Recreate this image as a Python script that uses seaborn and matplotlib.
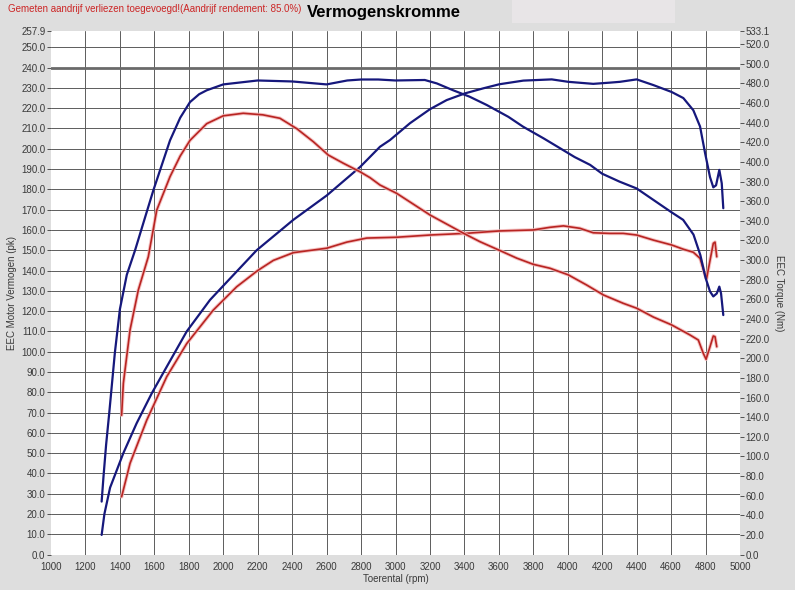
import matplotlib
matplotlib.use("Agg")
import matplotlib.pyplot as plt
import matplotlib.patheffects as pe
from matplotlib.patches import Rectangle
import seaborn as sns
import pandas as pd

# ---- data ----
blue_torque_rpm = [1294, 1305, 1320, 1338, 1371, 1400, 1440, 1488, 1540, 1594, 1691, 1750, 1807, 1860, 1904,
                   2000, 2200, 2400, 2600, 2720, 2800, 2900, 3000, 3170, 3240, 3335, 3430, 3530, 3655,
                   3740, 3860, 3955, 4040, 4130, 4200, 4300, 4400, 4500, 4600, 4670, 4730, 4770, 4800,
                   4826, 4845, 4865, 4880, 4890, 4903]
blue_torque_nm = [54, 80, 112, 144, 206, 250, 285, 310, 340, 371, 422, 445, 461, 469, 473,
                  479, 483, 482, 479, 483, 484, 484, 483, 483.5, 480, 473, 466.5, 458, 446,
                  436, 424, 414, 405, 397, 388, 380, 373, 361, 349, 341, 326, 305, 282,
                  268, 263, 266, 273, 266, 244]

blue_power_rpm = [1294, 1310, 1343, 1420, 1497, 1585, 1672, 1788, 1923, 2039, 2194, 2407, 2601, 2794,
                  2910, 2968, 3084, 3200, 3297, 3403, 3510, 3603, 3742, 3907, 4003, 4148, 4245,
                  4303, 4400, 4497, 4603, 4671, 4729, 4768, 4797, 4826, 4845, 4861, 4880, 4894, 4903]
blue_power_pk = [9.7, 20, 33, 50, 64.7, 79.5, 92.6, 110, 125.5, 136, 150, 165, 177, 191,
                 201, 204.3, 212.6, 219.5, 224, 227.3, 229.8, 231.8, 233.6, 234.2, 233, 232, 232.6,
                 233, 234.2, 231.4, 228, 225, 219, 211, 198, 186, 181, 182, 189.6, 183, 170.7]

red_torque_rpm = [1410, 1420, 1459, 1507, 1565, 1614, 1691, 1750, 1807, 1904, 2000, 2116, 2230, 2329, 2426,
                  2523, 2610, 2698, 2794, 2852, 2910, 3007, 3200, 3403, 3490, 3603, 3704, 3800, 3897,
                  4003, 4110, 4207, 4322, 4400, 4497, 4603, 4710, 4758, 4787, 4803, 4826, 4845,
                  4855, 4865]
red_torque_nm = [142, 174.5, 229, 269.6, 303.5, 351, 385, 406, 422, 439, 447, 449.6, 448, 444.5, 434,
                 420.6, 407, 398.6, 390, 384, 376.5, 368, 346, 326.6, 318.8, 310, 302, 295.7, 291.7,
                 285, 274.6, 264.5, 256, 251, 242, 234, 223.7, 218.6, 205, 199, 211.8, 222.7,
                 222, 211.8]

red_power_rpm = [1410, 1459, 1556, 1672, 1788, 1942, 2078, 2200, 2291, 2407, 2601, 2717, 2833, 3007, 3200,
                 3403, 3603, 3800, 3897, 3975, 4071, 4148, 4245, 4322, 4400, 4497, 4603, 4671,
                 4729, 4768, 4797, 4806, 4826, 4845, 4855, 4865]
red_power_pk = [28.5, 45, 66.3, 87.7, 104, 120.5, 132, 140, 145, 148.8, 151, 154, 156, 156.4, 157.5,
                158.3, 159.5, 160, 161.3, 162, 160.8, 158.6, 158.3, 158.3, 157.5, 155, 152.6, 150.5,
                149, 146, 137.8, 136, 145, 153.4, 154, 146.8]

x_ticks = list(range(1000, 5001, 200))
left_ticks = [float(v) for v in range(0, 251, 10)] + [257.9]
right_ticks = [float(v) for v in range(0, 521, 20)] + [533.1]

title = "Vermogenskromme"
note = "Gemeten aandrijf verliezen toegevoegd!(Aandrijf rendement: 85.0%)"
xlabel = "Toerental (rpm)"
ylabel_left = "EEC Motor Vermogen (pk)"
ylabel_right = "EEC Torque (Nm)"

# ---- style ----
sns.set_style("white")
plt.rcParams['font.family'] = ['Liberation Sans', 'DejaVu Sans']

BG = "#dedede"
BLUE = "#16187c"
RED = "#b82422"
TXT = "#3a3a3a"
GRID = "#5c5c5c"

fig = plt.figure(figsize=(7.95, 5.90), dpi=100, facecolor=BG)
L, R = 51 / 795, 740 / 795
B, T = 1 - 554.6 / 590, 1 - 31.3 / 590
ax = fig.add_axes([L, B, R - L, T - B])
ax.set_facecolor("white")
ax2 = ax.twinx()

df_bp = pd.DataFrame({"rpm": blue_power_rpm, "val": blue_power_pk})
df_rp = pd.DataFrame({"rpm": red_power_rpm, "val": red_power_pk})
df_bt = pd.DataFrame({"rpm": blue_torque_rpm, "val": blue_torque_nm})
df_rt = pd.DataFrame({"rpm": red_torque_rpm, "val": red_torque_nm})

halo = [pe.Stroke(linewidth=2.6, foreground="#f3b4b4", alpha=0.8), pe.Normal()]

sns.lineplot(data=df_bp, x="rpm", y="val", ax=ax, color=BLUE, linewidth=1.6, sort=False, zorder=5)
sns.lineplot(data=df_rp, x="rpm", y="val", ax=ax, color=RED, linewidth=1.2, sort=False, zorder=4,
             path_effects=halo)
sns.lineplot(data=df_bt, x="rpm", y="val", ax=ax2, color=BLUE, linewidth=1.6, sort=False, zorder=5)
sns.lineplot(data=df_rt, x="rpm", y="val", ax=ax2, color=RED, linewidth=1.2, sort=False, zorder=4,
             path_effects=halo)

ax.set_xlim(1000, 5000)
ax.set_ylim(0, 257.9)
ax2.set_ylim(0, 533.1)

# grid
for xv in x_ticks[1:-1]:
    ax.axvline(xv, color=GRID, linewidth=0.7, zorder=1)
for yv in left_ticks[1:-1]:
    if yv == 240.0:
        ax.axhline(yv, color="#6a6a6a", linewidth=2.0, zorder=1)
    else:
        ax.axhline(yv, color=GRID, linewidth=0.7, zorder=1)

ax.set_xticks(x_ticks)
ax.set_xticklabels([str(v) for v in x_ticks])
ax.set_yticks(left_ticks)
ax.set_yticklabels([f"{v:.1f}" for v in left_ticks])
ax2.set_yticks(right_ticks)
ax2.set_yticklabels([f"{v:.1f}" for v in right_ticks])

for a in (ax, ax2):
    for s in a.spines.values():
        s.set_visible(False)
    a.tick_params(axis="both", labelsize=7, colors=TXT, length=3, width=0.6, pad=1, direction="out")
ax.tick_params(axis="x", pad=2)

ax.set_xlabel(xlabel, fontsize=7, color=TXT, labelpad=2)
ax.set_ylabel(ylabel_left, fontsize=7, color=TXT, labelpad=3)
ax2.set_ylabel(ylabel_right, fontsize=7, color=TXT, rotation=270, labelpad=10)

# header
fig.patches.append(Rectangle((512 / 795, 1 - 23 / 590), 163 / 795, 23 / 590,
                             transform=fig.transFigure, facecolor="#e8e5e7", edgecolor="none", zorder=0))
fig.text(384 / 795, 1 - 12 / 590, title, ha="center", va="center", fontsize=12,
         fontweight="bold", color="black")
fig.text(8 / 795, 1 - 9 / 590, note, ha="left", va="center", fontsize=7, color="#cc2626")

fig.savefig("out.png", dpi=100, facecolor=BG)
